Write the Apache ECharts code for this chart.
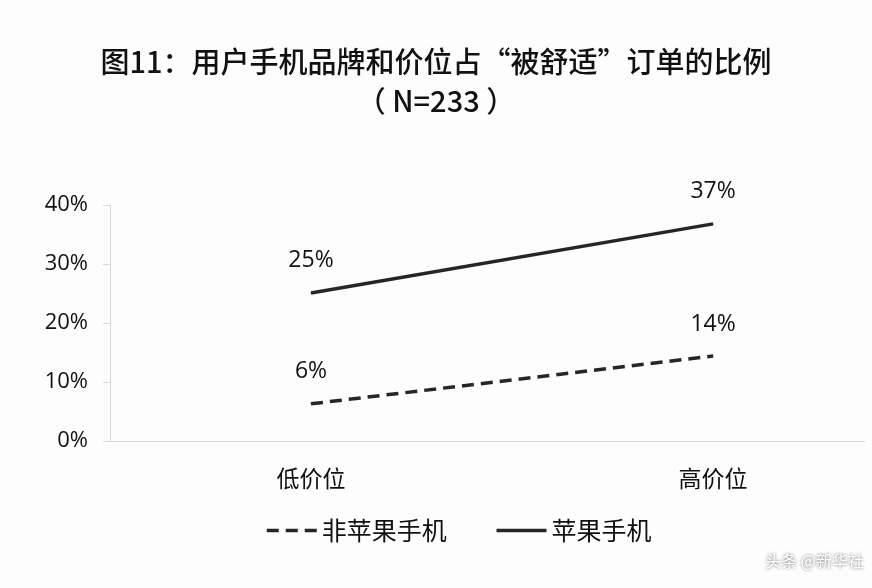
<!DOCTYPE html>
<html><head><meta charset="utf-8">
<script src="https://cdn.jsdelivr.net/npm/echarts@6/dist/echarts.min.js"></script>
<style>html,body{margin:0;padding:0;background:#fdfdfd}#c{width:872px;height:588px}</style>
</head><body><div id="c"></div>
<script>
const categories = ['低价位', '高价位'];
const seriesNames = ['非苹果手机', '苹果手机'];
const nonApple = [6.3, 14.4];
const apple = [25.1, 36.8];
const yTicks = [0, 10, 20, 30, 40];

const FONT = '"Open Sans","Noto Sans CJK SC",sans-serif';
const CJK = '"Noto Sans CJK SC",sans-serif';
const chart = echarts.init(document.getElementById('c'));
const lbl = (d) => ({
  show: true, position: 'top', distance: d, color: '#111', fontSize: 23, fontFamily: FONT,
  formatter: p => Math.round(p.value[1]) + '%'
});
chart.setOption({
  backgroundColor: '#fdfdfd',
  animation: false,
  title: {
    text: '图11：用户手机品牌和价位占“被舒适”订单的比例\n（ N=233 ）',
    left: 'center', top: 37,
    textStyle: { fontSize: 29, fontWeight: 500, color: '#111', fontFamily: CJK, lineHeight: 39 }
  },
  legend: {
    left: 260, top: 513, itemWidth: 50, itemHeight: 14, itemGap: 48,
    itemStyle: { opacity: 0 },
    lineStyle: { width: 3.5 },
    textStyle: { fontSize: 25, color: '#111', fontFamily: CJK },
    data: seriesNames
  },
  grid: { left: 110, right: 7, top: 205, bottom: 147, containLabel: false },
  xAxis: {
    type: 'value', min: -0.5, max: 1.378,
    axisLine: { show: true, onZero: false, lineStyle: { color: '#d9d9d9', width: 1 } },
    axisTick: { show: false },
    splitLine: { show: false },
    axisLabel: {
      customValues: [0, 1], margin: 26, fontSize: 23, color: '#111',
      fontFamily: CJK,
      formatter: v => categories[Math.round(v)] || ''
    }
  },
  yAxis: {
    type: 'value', min: yTicks[0], max: yTicks[yTicks.length - 1], interval: 10,
    axisLine: { show: true, onZero: false, lineStyle: { color: '#d9d9d9', width: 1 } },
    axisTick: { show: true, length: 7, lineStyle: { color: '#d9d9d9' } },
    splitLine: { show: false },
    axisLabel: { fontSize: 22, color: '#111', margin: 22, fontFamily: FONT, formatter: v => v + '%' }
  },
  series: [
    {
      name: seriesNames[0], type: 'line',
      data: nonApple.map((v, i) => [i, v]),
      symbol: 'circle', symbolSize: 1,
      itemStyle: { color: '#262626' },
      lineStyle: { color: '#262626', width: 3.5, type: [12, 7] },
      label: lbl(20)
    },
    {
      name: seriesNames[1], type: 'line',
      data: apple.map((v, i) => [i, v]),
      symbol: 'circle', symbolSize: 1,
      itemStyle: { color: '#262626' },
      lineStyle: { color: '#262626', width: 3.5 },
      label: lbl(20)
    }
  ],
  graphic: [{
    type: 'text', right: 8, top: 553,
    style: { text: '头条 @新华社', fill: '#fff', fontSize: 16, fontFamily: CJK,
      textShadowColor: 'rgba(0,0,0,0.6)', textShadowBlur: 3 }
  }]
});
</script></body></html>
